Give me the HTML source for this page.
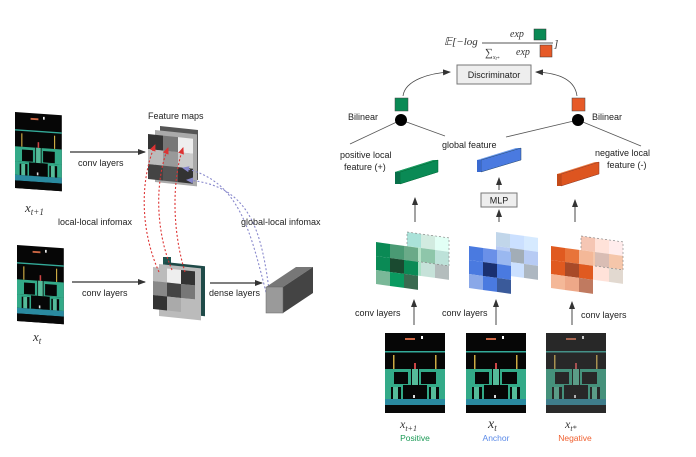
<!DOCTYPE html>
<html><head><meta charset="utf-8"><style>
body{margin:0;background:#fff;}
svg{display:block;font-family:"Liberation Sans",sans-serif;}
.t{font-size:9px;fill:#222;}
.m{font-family:"Liberation Serif",serif;font-style:italic;fill:#333;}
</style></head><body>
<svg width="696" height="457" viewBox="0 0 696 457" xmlns="http://www.w3.org/2000/svg">
<defs>
<marker id="ah" markerWidth="8" markerHeight="8" refX="7" refY="4" orient="auto" markerUnits="userSpaceOnUse"><path d="M0,1 L8,4 L0,7 z" fill="#333"/></marker>
<marker id="ar" markerWidth="7" markerHeight="7" refX="6" refY="3.5" orient="auto" markerUnits="userSpaceOnUse"><path d="M0,0.5 L7,3.5 L0,6.5 z" fill="#d33"/></marker>
<marker id="ab" markerWidth="7" markerHeight="7" refX="6" refY="3.5" orient="auto" markerUnits="userSpaceOnUse"><path d="M0,0.5 L7,3.5 L0,6.5 z" fill="#88c"/></marker>
<g id="game">
<rect x="0" y="0" width="60" height="80" fill="#060606"/>
<rect x="20" y="5" width="10" height="2" fill="#c64"/><rect x="36" y="3" width="2" height="3" fill="#fff"/>
<rect x="0" y="18" width="60" height="1.5" fill="#3a9"/>
<rect x="8" y="22" width="1.5" height="14" fill="#ca4"/><rect x="50" y="22" width="1.5" height="14" fill="#ca4"/>
<rect x="0" y="36" width="60" height="16" fill="#3a8"/>
<rect x="9" y="39" width="14" height="12" fill="#060606"/><rect x="36" y="39" width="15" height="12" fill="#060606"/>
<rect x="26" y="36" width="8" height="18" fill="#060606"/><rect x="27" y="36" width="6" height="18" fill="#5b9"/>
<rect x="29" y="30" width="2" height="6" fill="#c44"/>
<rect x="0" y="52" width="60" height="14" fill="#3a8"/>
<rect x="6" y="54" width="10" height="12" fill="#060606"/><rect x="44" y="54" width="10" height="12" fill="#060606"/>
<rect x="18" y="52" width="24" height="14" fill="#060606"/>
<rect x="8" y="54" width="5" height="12" fill="#5b9"/><rect x="46" y="54" width="5" height="12" fill="#5b9"/>
<rect x="28" y="62" width="2" height="3" fill="#ddd"/>
<rect x="0" y="66" width="60" height="6" fill="#2a8aa0"/>
<rect x="0" y="72" width="60" height="8" fill="#080808"/>
</g>
</defs>

<!-- LEFT -->
<g transform="translate(15,112) skewY(4) scale(0.78,0.95)"><use href="#game"/></g>
<g transform="translate(17,245) skewY(4) scale(0.78,0.95)"><use href="#game"/></g>
<text x="25" y="212" class="m" font-size="13">x<tspan font-size="9" dy="3">t+1</tspan></text>
<text x="33" y="341" class="m" font-size="13">x<tspan font-size="9" dy="3">t</tspan></text>

<line x1="70" y1="152" x2="145" y2="152" stroke="#333" stroke-width="1.2" marker-end="url(#ah)"/>
<text x="78" y="166" class="t">conv layers</text>
<line x1="72" y1="282" x2="145" y2="282" stroke="#333" stroke-width="1.2" marker-end="url(#ah)"/>
<text x="82" y="296" class="t">conv layers</text>
<text x="148" y="119" class="t">Feature maps</text>

<!-- top feature maps -->
<g transform="translate(160,126) skewY(6)"><rect width="38" height="50" fill="#555"/></g>
<g transform="translate(155,130) skewY(6)"><rect width="42" height="52" fill="#aaa"/></g>
<g transform="translate(148,134) skewY(6)">
<rect x="0" y="0" width="15" height="15" fill="#333"/><rect x="15" y="0" width="15" height="15" fill="#777"/><rect x="30" y="0" width="15" height="15" fill="#eee"/>
<rect x="0" y="15" width="15" height="15" fill="#bbb"/><rect x="15" y="15" width="15" height="15" fill="#999"/><rect x="30" y="15" width="15" height="15" fill="#ccc"/>
<rect x="0" y="30" width="15" height="15" fill="#444"/><rect x="15" y="30" width="15" height="15" fill="#555"/><rect x="30" y="30" width="15" height="15" fill="#333"/>
</g>
<!-- bottom feature maps -->
<rect x="163" y="257" width="8" height="8" fill="#1f5550"/>
<g transform="translate(165,262) skewY(6)"><rect width="40" height="50" fill="#1f4a48"/></g>
<g transform="translate(159,264) skewY(6)"><rect width="42" height="52" fill="#bbb"/></g>
<g transform="translate(153,267) skewY(6)">
<rect x="0" y="0" width="14" height="14" fill="#bbb"/><rect x="14" y="0" width="14" height="14" fill="#eee"/><rect x="28" y="0" width="14" height="14" fill="#333"/>
<rect x="0" y="14" width="14" height="14" fill="#888"/><rect x="14" y="14" width="14" height="14" fill="#444"/><rect x="28" y="14" width="14" height="14" fill="#777"/>
<rect x="0" y="28" width="14" height="14" fill="#333"/><rect x="14" y="28" width="14" height="14" fill="#aaa"/><rect x="28" y="28" width="14" height="14" fill="#bbb"/>
</g>
<!-- red dotted -->
<g fill="none" stroke="#d33" stroke-width="1.1" stroke-dasharray="2,2">
<path d="M159,272 C140,230 140,180 155,145" marker-end="url(#ar)"/>
<path d="M172,270 C155,230 155,180 168,148" marker-end="url(#ar)"/>
<path d="M185,272 C172,230 172,180 183,148" marker-end="url(#ar)"/>
</g>
<g fill="none" stroke="#88c" stroke-width="1.1" stroke-dasharray="2,2">
<path d="M268,300 C250,230 240,180 183,168" marker-end="url(#ab)"/>
<path d="M270,298 C262,230 250,185 187,180" marker-end="url(#ab)"/>
</g>
<text x="58" y="225" class="t">local-local infomax</text>
<text x="241" y="225" class="t">global-local infomax</text>

<line x1="210" y1="283" x2="262" y2="283" stroke="#333" stroke-width="1.2" marker-end="url(#ah)"/>
<text x="209" y="296" class="t">dense layers</text>
<!-- gray 3D box -->
<polygon points="266,287 283,287 313,267 296,267" fill="#777"/>
<polygon points="283,287 313,267 313,293 283,313" fill="#444"/>
<rect x="266" y="287" width="17" height="26" fill="#9a9a9a" stroke="#666" stroke-width="0.5"/>

<!-- RIGHT -->
<text x="444" y="45" class="m" font-size="11" font-style="normal">𝔼[−<tspan font-style="italic">log</tspan></text>
<text x="510" y="37" class="m" font-size="10">exp</text>
<rect x="534" y="29" width="12" height="11" fill="#0a8a55" stroke="#333" stroke-width="0.5"/>
<line x1="482" y1="43" x2="553" y2="43" stroke="#555" stroke-width="1"/>
<text x="485" y="56" class="m" font-size="11" font-style="normal">∑<tspan font-size="6" font-style="italic" dy="3">x</tspan><tspan font-size="5" font-style="italic" dy="1">t*</tspan></text>
<text x="516" y="55" class="m" font-size="10">exp</text>
<rect x="540" y="45" width="12" height="12" fill="#e65a28" stroke="#333" stroke-width="0.5"/>
<text x="554" y="47" class="m" font-size="11" font-style="normal">]</text>

<rect x="457" y="65" width="74" height="19" fill="#eee" stroke="#777" stroke-width="1"/>
<text x="494" y="78" class="t" text-anchor="middle">Discriminator</text>
<path d="M403,96 C405,80 430,73 450,72" fill="none" stroke="#444" stroke-width="0.8" marker-end="url(#ah)"/>
<path d="M577,96 C575,80 560,73 536,72" fill="none" stroke="#444" stroke-width="0.8" marker-end="url(#ah)"/>

<rect x="395" y="98" width="13" height="13" fill="#0a8a55" stroke="#444" stroke-width="0.5"/>
<rect x="572" y="98" width="13" height="13" fill="#e65a28" stroke="#444" stroke-width="0.5"/>
<g stroke="#555" stroke-width="0.8">
<line x1="401" y1="120" x2="350" y2="144"/><line x1="401" y1="120" x2="445" y2="136"/>
<line x1="578" y1="120" x2="506" y2="137"/><line x1="578" y1="120" x2="641" y2="146"/>
</g>
<circle cx="401" cy="120" r="6" fill="#000"/>
<circle cx="578" cy="120" r="6" fill="#000"/>
<text x="348" y="120" class="t">Bilinear</text>
<text x="592" y="120" class="t">Bilinear</text>
<text x="442" y="148" class="t">global feature</text>
<text x="340" y="158" class="t">positive local</text>
<text x="344" y="170" class="t">feature (+)</text>
<text x="595" y="156" class="t">negative local</text>
<text x="607" y="168" class="t">feature (-)</text>

<!-- bars -->
<polygon points="395,172 434,160 438,160 438,172 400,184 395,184" fill="#0a7a4a"/>
<polygon points="395,172 400,172 438,160 433,160" fill="#1a9a60"/>
<polygon points="400,172 438,160 438,172 400,184" fill="#0a8a55" stroke="#063" stroke-width="0.5"/>
<rect x="395" y="172" width="5" height="12" fill="#08704a"/>
<polygon points="477,160 481,160 521,148 516,148" fill="#6a9aee"/>
<polygon points="481,160 521,148 521,160 481,172" fill="#4a7ae0" stroke="#246" stroke-width="0.5"/>
<rect x="477" y="160" width="4" height="12" fill="#3a6ad0"/>
<polygon points="557,174 561,174 599,162 595,162" fill="#ee7a40"/>
<polygon points="561,174 599,162 599,174 561,186" fill="#dd5520" stroke="#832" stroke-width="0.5"/>
<rect x="557" y="174" width="4" height="12" fill="#c44a18"/>

<rect x="481" y="193" width="36" height="14" fill="#eee" stroke="#777" stroke-width="1"/>
<text x="499" y="203.5" class="t" font-size="8" text-anchor="middle">MLP</text>
<g stroke="#333" stroke-width="0.9">
<line x1="499" y1="190" x2="499" y2="178" marker-end="url(#ah)"/>
<line x1="499" y1="222" x2="499" y2="210" marker-end="url(#ah)"/>
<line x1="415" y1="222" x2="415" y2="198" marker-end="url(#ah)"/>
<line x1="575" y1="222" x2="575" y2="200" marker-end="url(#ah)"/>
<line x1="414" y1="325" x2="414" y2="300" marker-end="url(#ah)"/>
<line x1="496" y1="325" x2="496" y2="300" marker-end="url(#ah)"/>
<line x1="572" y1="325" x2="572" y2="302" marker-end="url(#ah)"/>
</g>

<!-- green grid -->
<g transform="translate(407,232) skewY(8)" opacity="0.55">
<rect width="14" height="14" fill="#6cb" /><rect x="14" width="14" height="14" fill="#aedcc8"/><rect x="28" width="14" height="14" fill="#cfe"/>
<rect y="14" width="14" height="14" fill="#7c9"/><rect x="14" y="14" width="14" height="14" fill="#396"/><rect x="28" y="14" width="14" height="14" fill="#8cb"/>
<rect y="28" width="14" height="14" fill="#6c9"/><rect x="14" y="28" width="14" height="14" fill="#9cb"/><rect x="28" y="28" width="14" height="14" fill="#788"/>
<rect width="42" height="28" fill="none" stroke="#333" stroke-dasharray="2,2" stroke-width="0.7"/>
</g>
<g transform="translate(376,242) skewY(8)">
<rect width="14" height="14" fill="#0a8a55"/><rect x="14" width="14" height="14" fill="#4a9a74"/><rect x="28" width="14" height="14" fill="#6aaa88"/>
<rect y="14" width="14" height="14" fill="#0a8a55"/><rect x="14" y="14" width="14" height="14" fill="#1a4a30"/><rect x="28" y="14" width="14" height="14" fill="#0a8a55"/>
<rect y="28" width="14" height="14" fill="#7ab898"/><rect x="14" y="28" width="14" height="14" fill="#0a9a60"/><rect x="28" y="28" width="14" height="14" fill="#3a6a50"/>
</g>
<!-- blue grid -->
<g transform="translate(496,232) skewY(8)" opacity="0.6">
<rect width="14" height="14" fill="#9bd"/><rect x="14" width="14" height="14" fill="#acf"/><rect x="28" width="14" height="14" fill="#bdf"/>
<rect y="14" width="14" height="14" fill="#8ae"/><rect x="14" y="14" width="14" height="14" fill="#678"/><rect x="28" y="14" width="14" height="14" fill="#8ae"/>
<rect y="28" width="14" height="14" fill="#9bd"/><rect x="14" y="28" width="14" height="14" fill="#acf"/><rect x="28" y="28" width="14" height="14" fill="#789"/>
</g>
<g transform="translate(469,246) skewY(8)">
<rect width="14" height="14" fill="#4a7ae0"/><rect x="14" width="14" height="14" fill="#6a90e8"/><rect x="28" width="14" height="14" fill="#9ab8f0"/>
<rect y="14" width="14" height="14" fill="#4a7ae0"/><rect x="14" y="14" width="14" height="14" fill="#1a3070"/><rect x="28" y="14" width="14" height="14" fill="#4a7ae0"/>
<rect y="28" width="14" height="14" fill="#8aa8e8"/><rect x="14" y="28" width="14" height="14" fill="#4a7ae0"/><rect x="28" y="28" width="14" height="14" fill="#3a5a9a"/>
</g>
<!-- orange grid -->
<g transform="translate(581,236) skewY(8)" opacity="0.55">
<rect width="14" height="14" fill="#e97"/><rect x="14" width="14" height="14" fill="#fcb"/><rect x="28" width="14" height="14" fill="#fdd"/>
<rect y="14" width="14" height="14" fill="#e96"/><rect x="14" y="14" width="14" height="14" fill="#b87"/><rect x="28" y="14" width="14" height="14" fill="#e96"/>
<rect y="28" width="14" height="14" fill="#fcb"/><rect x="14" y="28" width="14" height="14" fill="#fcb"/><rect x="28" y="28" width="14" height="14" fill="#cba"/>
<rect width="42" height="28" fill="none" stroke="#333" stroke-dasharray="2,2" stroke-width="0.7"/>
</g>
<g transform="translate(551,246) skewY(8)">
<rect width="14" height="14" fill="#e05a20"/><rect x="14" width="14" height="14" fill="#e8743a"/><rect x="28" width="14" height="14" fill="#f4b898"/>
<rect y="14" width="14" height="14" fill="#e05a20"/><rect x="14" y="14" width="14" height="14" fill="#a84a28"/><rect x="28" y="14" width="14" height="14" fill="#e05a20"/>
<rect y="28" width="14" height="14" fill="#f4b898"/><rect x="14" y="28" width="14" height="14" fill="#eea888"/><rect x="28" y="28" width="14" height="14" fill="#c07a60"/>
</g>

<text x="355" y="316" class="t">conv layers</text>
<text x="442" y="316" class="t">conv layers</text>
<text x="581" y="318" class="t">conv layers</text>

<g transform="translate(385,333)"><use href="#game"/></g>
<g transform="translate(466,333)"><use href="#game"/></g>
<g transform="translate(546,333)" opacity="0.85"><use href="#game"/></g>
<rect x="546" y="333" width="60" height="80" fill="#222" opacity="0.25"/>

<text x="400" y="428" class="m" font-size="12">x<tspan font-size="8" dy="3">t+1</tspan></text>
<text x="488" y="428" class="m" font-size="14">x<tspan font-size="9" dy="3">t</tspan></text>
<text x="565" y="428" class="m" font-size="12">x<tspan font-size="8" dy="3">t*</tspan></text>
<text x="415" y="441" font-size="8.5" fill="#1a9a55" text-anchor="middle">Positive</text>
<text x="496" y="441" font-size="8.5" fill="#5a8ae8" text-anchor="middle">Anchor</text>
<text x="575" y="441" font-size="8.5" fill="#f06030" text-anchor="middle">Negative</text>
</svg>
</body></html>
